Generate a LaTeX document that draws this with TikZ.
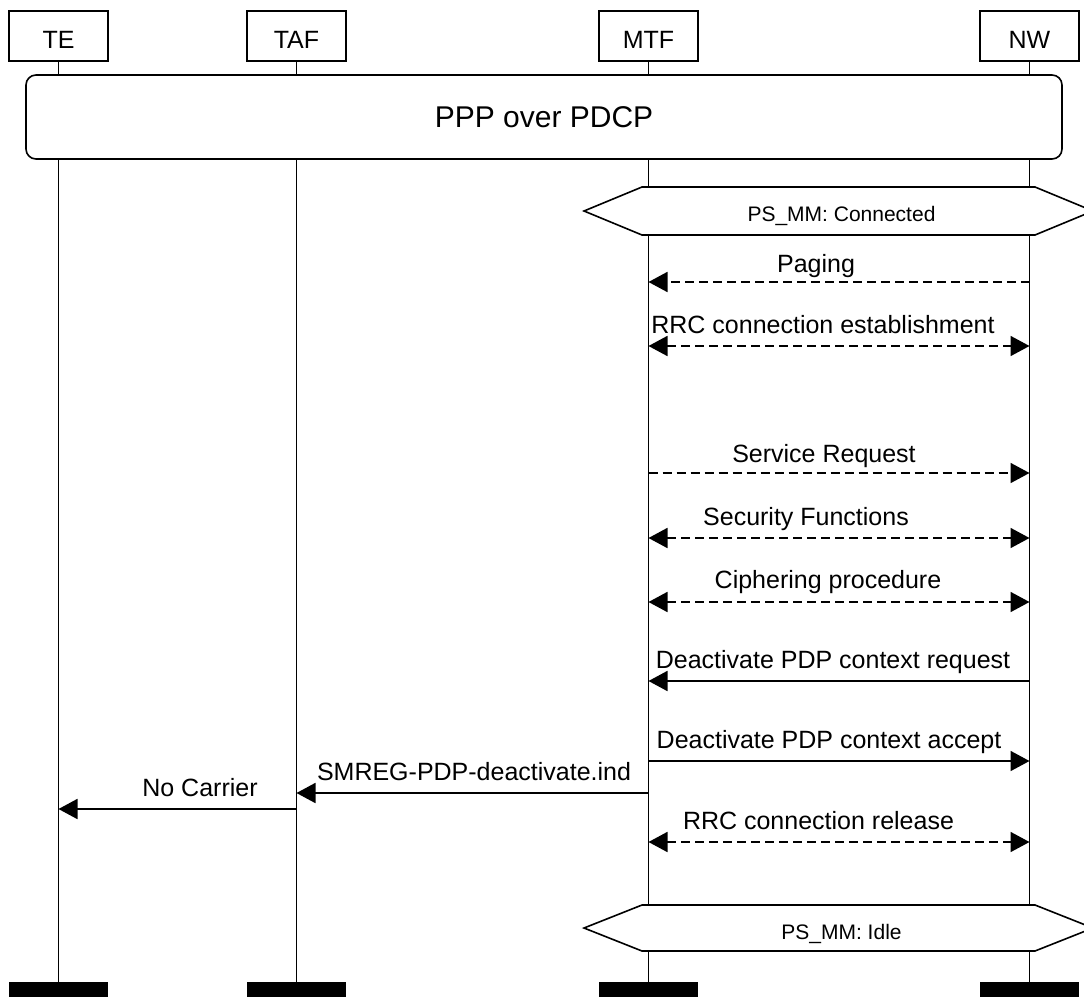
\documentclass[tikz,border=0pt]{standalone}
\usepackage{fontspec}
\setmainfont{Liberation Sans}
\usetikzlibrary{arrows.meta}

\tikzset{
  headbox/.style={draw, line width=1.6pt, minimum width=99pt, minimum height=50pt,
                  inner sep=0pt, text height=26pt, text depth=0pt,
                  font=\fontsize{25}{30}\selectfont, fill=white},
  endbar/.style={fill=black, minimum width=99pt, minimum height=22pt, inner sep=0pt, anchor=north},
  lifeline/.style={line width=1.5pt},
  tipshape/.tip={Triangle[length=19pt,width=20pt]},
  msg/.style={line width=1.8pt, -tipshape},
  bimsg/.style={line width=1.8pt, tipshape-tipshape},
  dashmsg/.style={dash pattern=on 9pt off 5pt},
  lbl/.style={anchor=base, inner sep=0pt, font=\fontsize{25}{30}\selectfont},
  statelbl/.style={anchor=base, inner sep=0pt, font=\fontsize{21}{25}\selectfont},
  statebox/.style={draw, line width=1.6pt, fill=white, line join=miter},
  pppbox/.style={draw, line width=1.6pt, fill=white, rounded corners=10pt,
                 minimum width=1036pt, minimum height=84pt, inner sep=0pt,
                 font=\fontsize{30}{36}\selectfont}
}

\begin{document}
\begin{tikzpicture}[x=1pt, y=-1pt]
  \clip (0,0) rectangle (1084,996);
  \fill[white] (0,0) rectangle (1084,996);

  % instance heads
  \node[headbox] (te)  at (58.5,35.7)   {TE};
  \node[headbox] (taf) at (296.5,35.7)  {TAF};
  \node[headbox] (mtf) at (648.5,35.7)  {MTF};
  \node[headbox] (nw)  at (1029.5,35.7) {NW};

  % instance ends
  \node[endbar] (teend)  at (58.5,982)   {};
  \node[endbar] (tafend) at (296.5,982)  {};
  \node[endbar] (mtfend) at (648.5,982)  {};
  \node[endbar] (nwend)  at (1029.5,982) {};

  % lifelines
  \draw[lifeline] (te.south)  -- (teend.north);
  \draw[lifeline] (taf.south) -- (tafend.north);
  \draw[lifeline] (mtf.south) -- (mtfend.north);
  \draw[lifeline] (nw.south)  -- (nwend.north);

  % shared condition spanning all instances
  \node[pppbox] (ppp) at (544,117) {PPP over PDCP};

  % PS_MM state: Connected
  \draw[statebox] (584,211) -- (642,187) -- (1035,187) -- (1093,211) -- (1035,235) -- (642,235) -- cycle;
  \node[statelbl] (connected) at (841.5,221.5) {PS\_MM: Connected};

  % messages
  \draw[msg, dashmsg] (nw |- 0,282) -- (mtf |- 0,282);
  \node[lbl] (paging) at (816,272) {Paging};

  \draw[bimsg, dashmsg] (mtf |- 0,346) -- (nw |- 0,346);
  \node[lbl] (rrcest) at (823,333) {RRC connection establishment};

  \draw[msg, dashmsg] (mtf |- 0,473) -- (nw |- 0,473);
  \node[lbl] (servreq) at (824,462) {Service Request};

  \draw[bimsg, dashmsg] (mtf |- 0,538) -- (nw |- 0,538);
  \node[lbl] (security) at (806,525) {Security Functions};

  \draw[bimsg, dashmsg] (mtf |- 0,602) -- (nw |- 0,602);
  \node[lbl] (ciphering) at (828,588) {Ciphering procedure};

  \draw[msg] (nw |- 0,681) -- (mtf |- 0,681);
  \node[lbl] (deactreq) at (833,668) {Deactivate PDP context request};

  \draw[msg] (mtf |- 0,761) -- (nw |- 0,761);
  \node[lbl] (deactacc) at (829,748) {Deactivate PDP context accept};

  \draw[msg] (mtf |- 0,793) -- (taf |- 0,793);
  \node[lbl] (smreg) at (474,780) {SMREG-PDP-deactivate.ind};

  \draw[msg] (taf |- 0,809) -- (te |- 0,809);
  \node[lbl] (nocarrier) at (200,796.5) {No Carrier};

  \draw[bimsg, dashmsg] (mtf |- 0,842) -- (nw |- 0,842);
  \node[lbl] (rrcrel) at (818.5,829) {RRC connection release};

  % PS_MM state: Idle
  \draw[statebox] (584,928) -- (642,905) -- (1035,905) -- (1093,928) -- (1035,951) -- (642,951) -- cycle;
  \node[statelbl] (idle) at (841.5,939) {PS\_MM: Idle};
\end{tikzpicture}
\end{document}
